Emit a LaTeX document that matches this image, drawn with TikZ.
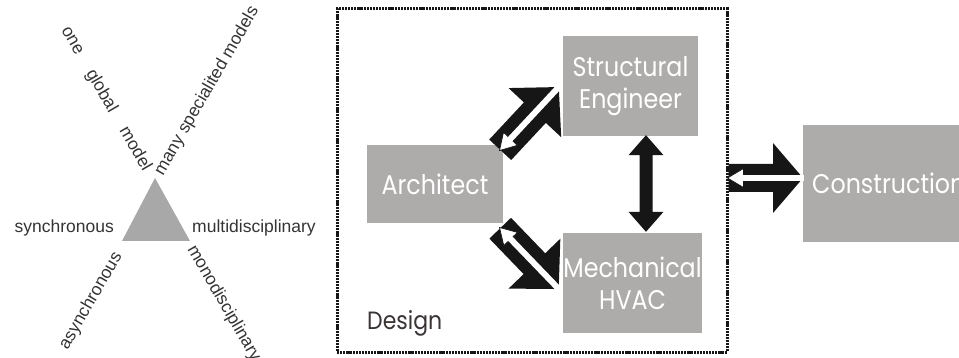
\documentclass[tikz,border=0pt]{standalone}
\usepackage{fontspec}
\setmainfont{Liberation Sans}
\newfontfamily\rolefont[FakeStretch=0.88]{Poppins}
\usetikzlibrary{calc}

\definecolor{boxgrey}{RGB}{174,172,171}
\definecolor{trigrey}{RGB}{168,168,168}
\definecolor{inkblack}{RGB}{22,22,22}
\definecolor{labelgrey}{RGB}{52,52,52}
\definecolor{designgrey}{RGB}{58,52,52}

\tikzset{
  rolebox/.style={fill=boxgrey, text=white, inner sep=0pt, align=center,
    font=\rolefont\fontsize{27}{32}\selectfont},
  axislabel/.style={text=labelgrey, inner sep=0pt, font=\fontsize{17.5}{19}\selectfont},
  designframe/.style={draw=inkblack, line width=3pt, dash pattern=on 2.2pt off 0.9pt}
}

% fat black arrow from #1 to #2 with a thin white arrow running back inside it
% #3 head length, #4 head half width, #5 shaft half width
\newcommand\flowarrow[5]{%
  \path let \p1=($(#2)-(#1)$) in
    \pgfextra{\pgfmathsetmacro\arrang{atan2(\y1,\x1)}\pgfmathsetmacro\arrlen{veclen(\x1,\y1)}%
      \global\let\arrang\arrang\global\let\arrlen\arrlen};
  \begin{scope}[shift={(#1)}, rotate=\arrang]
    \fill[inkblack] (0,-#5) -- ({\arrlen-#3},-#5) -- ({\arrlen-#3},-#4) -- (\arrlen,0)
      -- ({\arrlen-#3},#4) -- ({\arrlen-#3},#5) -- (0,#5) -- cycle;
    \filldraw[fill=white, draw=inkblack, line width=0.7pt] (-1,0) -- (15,-9.5) -- (15,9.5) -- cycle;
    \fill[white] (12,-3) rectangle ({\arrlen+1},3);
  \end{scope}}

\begin{document}
\begin{tikzpicture}[x=1pt, y=-1pt]
  \clip (0,0) rectangle (959,358);

  % triangle of the three axes
  \fill[trigrey] (155,178) -- (122,241) -- (190,241) -- cycle;
  \node[axislabel, anchor=base east] (sync) at (114,233) {synchronous};
  \node[axislabel, anchor=base west] (multi) at (192,233) {multidisciplinary};
  \node[axislabel, rotate=60] (many) at (207,91) {many specialited models};
  \node[axislabel, rotate=-60] (global) at (106,99) {one\hspace{20pt}global\hspace{20pt}model};
  \node[axislabel, rotate=60] (async) at (91,301) {asynchronous};
  \node[axislabel, anchor=base west, rotate=-60] (mono) at (187,249) {monodisciplinary};

  % design team
  \node[designframe, minimum width=390, minimum height=343] (designarea) at (532,180.5) {};
  \node[anchor=base west, text=designgrey, inner sep=0pt,
    font=\rolefont\fontsize{25}{25}\selectfont] (design) at (367,330) {Design};

  \node[rolebox, minimum width=136, minimum height=78] (arch) at (435,184) {Architect};
  \node[rolebox, minimum width=135, minimum height=100] (struct) at (630.5,86) {Structural\\Engineer};
  \node[rolebox, minimum width=139, minimum height=100] (mech) at (632.5,283) {Mechanical\\HVAC};
  \node[rolebox, anchor=west, minimum height=117, inner xsep=9pt] (constr) at (803,183.5) {Construction};

  \flowarrow{$(arch.north east)+(-3,5)$}{$(struct.west)+(-4,1)$}{35}{36}{15}
  \flowarrow{$(arch.south east)+(-3,5)$}{$(mech.west)+(-4,6)$}{35}{36}{15}

  % structural <-> mechanical
  \coordinate (vtop) at ($(struct.south)+(15.5,-1)$);
  \coordinate (vbot) at ($(mech.north)+(13.5,-1)$);
  \fill[inkblack] (vtop) -- ($(vtop)+(17.5,20)$) -- ($(vtop)+(6.5,20)$) -- ($(vbot)+(6.5,-20)$)
    -- ($(vbot)+(17.5,-20)$) -- (vbot) -- ($(vbot)+(-17.5,-20)$) -- ($(vbot)+(-6.5,-20)$)
    -- ($(vtop)+(-6.5,20)$) -- ($(vtop)+(-17.5,20)$) -- cycle;

  \coordinate (ctip) at ($(constr.west)+(0,-5.5)$);
  \coordinate (ctail) at (designarea.east |- ctip);
  \flowarrow{ctail}{ctip}{30}{35}{14}
\end{tikzpicture}
\end{document}
